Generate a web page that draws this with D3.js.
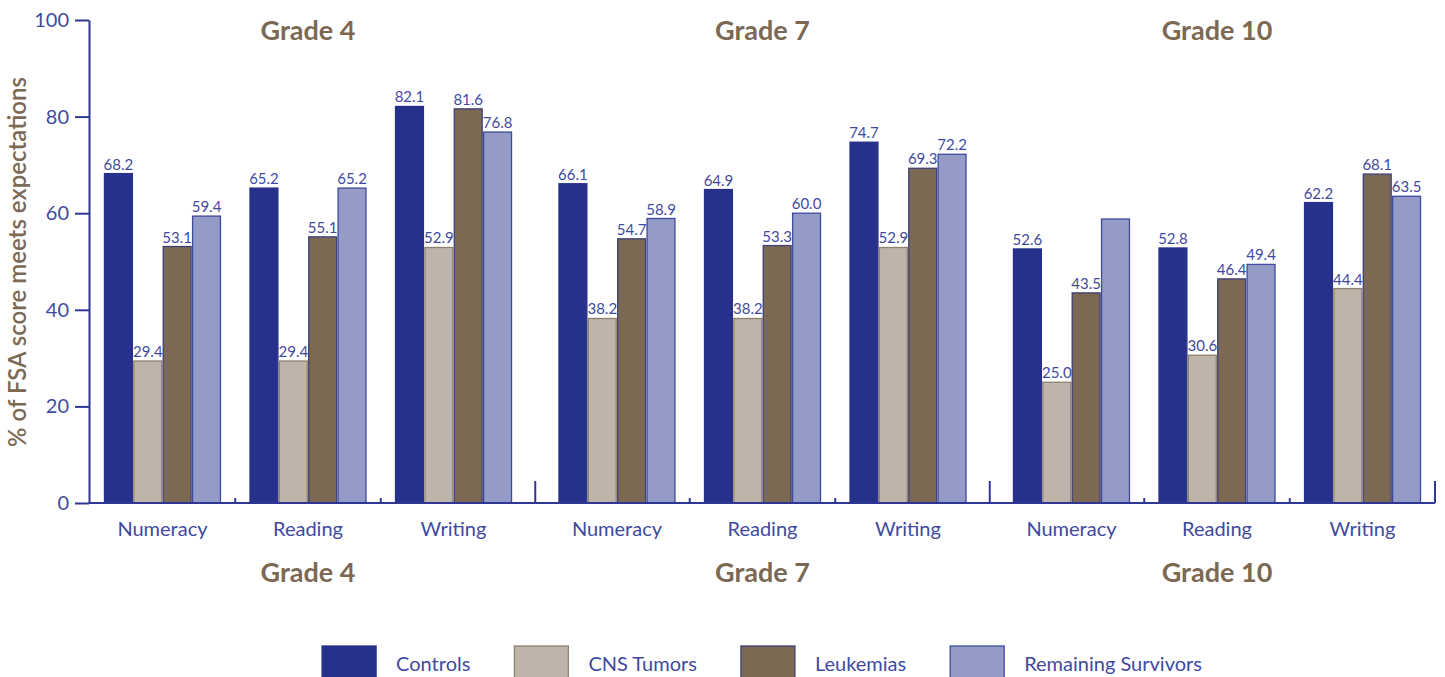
<!DOCTYPE html>
<html>
<head>
<meta charset="utf-8">
<script src="https://cdn.jsdelivr.net/npm/d3@7"></script>
<style>
  body { margin: 0; background: #fff; }
  svg { display: block; font-family: Lato, "Open Sans", sans-serif; }
</style>
</head>
<body>
<svg></svg>
<script>
// data
var grades = ["Grade 4", "Grade 7", "Grade 10"]
var subjects = ["Numeracy", "Reading", "Writing"]
var series = ["Controls", "CNS Tumors", "Leukemias", "Remaining Survivors"]

// one value per grade/subject, in order G4 Num, G4 Read, G4 Writ, G7 ..., G10 ...
var controls  = [68.2, 65.2, 82.1, 66.1, 64.9, 74.7, 52.6, 52.8, 62.2]
var cnsTumors = [29.4, 29.4, 52.9, 38.2, 38.2, 52.9, 25.0, 30.6, 44.4]
var leukemias = [53.1, 55.1, 81.6, 54.7, 53.3, 69.3, 43.5, 46.4, 68.1]
var remaining = [59.4, 65.2, 76.8, 58.9, 60.0, 72.2, 58.8, 49.4, 63.5]
// this bar carries no value label in the original
var unlabelled = ["Grade 10|Numeracy|Remaining Survivors"]

var yTicks = [0, 20, 40, 60, 80, 100]
var yTitle = "% of FSA score meets expectations"

var fills   = ["#27318b", "#beb4a9", "#7b6954", "#959bc7"]
var strokes = ["#27318b", "#8f8170", "#3f3f78", "#3e4a9f"]
var blue = "#3f4a9f"
var brown = "#7b6954"

var screen = {width: 1445, height: 677}

var svg = d3.select("svg")
            .attr("width", screen.width)
            .attr("height", screen.height)

var allValues = [controls, cnsTumors, leukemias, remaining]
var rows = []
grades.forEach(function(g, gi){
  subjects.forEach(function(s, si){
    series.forEach(function(k, ki){
      var v = allValues[ki][gi * 3 + si]
      rows.push({grade: g, subject: s, series: k, si: ki, value: v,
                 label: unlabelled.indexOf(g + "|" + s + "|" + k) < 0})
    })
  })
})

var yScale = d3.scaleLinear().domain([0, 100]).range([503, 20])

var x0 = d3.scaleBand().domain(grades).range([80.75, 1444.25])
var x1 = d3.scaleBand().domain(subjects).range([0, x0.bandwidth()])
           .paddingInner(0.203).paddingOuter(0.163)
var x2 = d3.scaleBand().domain(series).range([0, x1.bandwidth()])
           .paddingInner(0.05)

var axisLeft = 89, axisRight = 1435

// bars
var barX = function(d){ return x0(d.grade) + x1(d.subject) + x2(d.series) }

svg.append("g").selectAll("rect")
   .data(rows)
   .enter()
   .append("rect")
   .attr("x", barX)
   .attr("y", function(d){ return yScale(d.value) })
   .attr("width", x2.bandwidth())
   .attr("height", function(d){ return yScale(0) - yScale(d.value) })
   .attr("fill", function(d){ return fills[d.si] })
   .attr("stroke", function(d){ return strokes[d.si] })
   .attr("stroke-width", 1.3)

svg.append("g").selectAll("text")
   .data(rows.filter(function(d){ return d.label }))
   .enter()
   .append("text")
   .attr("x", function(d){ return barX(d) + x2.bandwidth() / 2 })
   .attr("y", function(d){ return yScale(d.value) - 4 })
   .attr("text-anchor", "middle")
   .attr("font-size", 15)
   .attr("fill", blue)
   .text(function(d){ return d.value.toFixed(1) })

// y axis
var yAxis = d3.axisLeft(yScale)
              .tickValues(yTicks)
              .tickSize(14)
              .tickSizeOuter(0)
              .tickPadding(6)

var yg = svg.append("g")
            .attr("transform", "translate(" + axisLeft + ",0)")
            .call(yAxis)
yg.selectAll("path, line").attr("stroke", "#2f3793").attr("stroke-width", 2)
yg.selectAll("text").attr("font-size", 20).attr("fill", blue)
  .attr("font-family", "Lato, sans-serif")

svg.append("text")
   .attr("transform", "translate(26,262) rotate(-90)")
   .attr("text-anchor", "middle")
   .attr("font-size", 24)
   .attr("font-weight", 600)
   .attr("fill", brown)
   .text(yTitle)

// x axis line and ticks
var xg = svg.append("g").attr("stroke", "#2f3793").attr("stroke-width", 2)
xg.append("line")
  .attr("x1", axisLeft).attr("x2", axisRight)
  .attr("y1", yScale(0)).attr("y2", yScale(0))

var smallTicks = []
grades.forEach(function(g){
  subjects.slice(0, 2).forEach(function(s){
    smallTicks.push(x0(g) + x1(s) + x1.bandwidth() + x1.step() * x1.paddingInner() / 2)
  })
})
var bigTicks = grades.slice(0, 2).map(function(g){ return x0(g) + x0.bandwidth() })
bigTicks.push(axisRight)

xg.selectAll(".small").data(smallTicks).enter().append("line")
  .attr("x1", function(d){ return d }).attr("x2", function(d){ return d })
  .attr("y1", yScale(0) - 5).attr("y2", yScale(0))
xg.selectAll(".big").data(bigTicks).enter().append("line")
  .attr("x1", function(d){ return d }).attr("x2", function(d){ return d })
  .attr("y1", yScale(0) - 22).attr("y2", yScale(0))

// subject labels
var subjRows = []
grades.forEach(function(g){ subjects.forEach(function(s){ subjRows.push({g: g, s: s}) }) })

svg.append("g").selectAll("text")
   .data(subjRows)
   .enter()
   .append("text")
   .attr("x", function(d){ return x0(d.g) + x1(d.s) + x1.bandwidth() / 2 })
   .attr("y", 536)
   .attr("text-anchor", "middle")
   .attr("font-size", 20)
   .attr("fill", blue)
   .text(function(d){ return d.s })

// grade titles, top and bottom
;[40, 582].forEach(function(yy){
  svg.append("g").selectAll("text")
     .data(grades)
     .enter()
     .append("text")
     .attr("x", function(d){ return x0(d) + x0.bandwidth() / 2 })
     .attr("y", yy)
     .attr("text-anchor", "middle")
     .attr("font-size", 27)
     .attr("font-weight", "bold")
     .attr("fill", brown)
     .text(function(d){ return d })
})

// legend
var legend = svg.append("g")
var swW = 54, swGap = 20, itemGap = 44
var items = legend.selectAll("g")
   .data(series)
   .enter()
   .append("g")
items.append("rect")
     .attr("y", 646)
     .attr("width", swW)
     .attr("height", 36)
     .attr("fill", function(d, i){ return fills[i] })
     .attr("stroke", function(d, i){ return strokes[i] })
     .attr("stroke-width", 1.3)
items.append("text")
     .attr("x", swW + swGap)
     .attr("y", 671)
     .attr("font-size", 20)
     .attr("fill", blue)
     .text(function(d){ return d })

var pos = 0
items.each(function(){
  var w = d3.select(this).select("text").node().getComputedTextLength()
  d3.select(this).attr("data-x", pos)
  pos += swW + swGap + w + itemGap
})
var total = pos - itemGap
var start = (axisLeft + axisRight) / 2 - total / 2
items.attr("transform", function(){
  return "translate(" + (start + (+d3.select(this).attr("data-x"))) + ",0)"
})
</script>
</body>
</html>
